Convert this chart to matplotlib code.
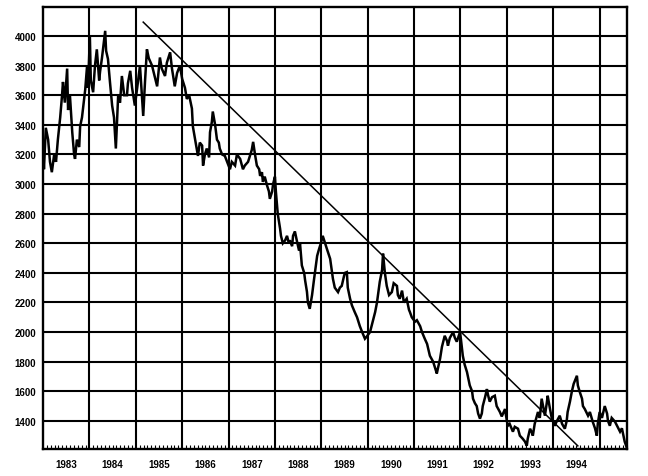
import matplotlib
matplotlib.use("Agg")
import matplotlib.pyplot as plt
import matplotlib.transforms as mtransforms
import numpy as np

years = [
1983.00,1983.02,1983.06,1983.11,1983.15,1983.19,1983.24,1983.28,1983.32,1983.37,
1983.41,1983.43,1983.47,1983.52,1983.54,1983.58,1983.63,1983.67,1983.69,1983.73,
1983.78,1983.80,1983.84,1983.91,1983.95,1983.97,1984.01,1984.03,1984.08,1984.12,
1984.16,1984.21,1984.23,1984.27,1984.34,1984.36,1984.40,1984.44,1984.49,1984.53,
1984.57,1984.62,1984.66,1984.70,1984.75,1984.81,1984.83,1984.88,1984.92,1984.98,
1985.03,1985.09,1985.13,1985.16,1985.20,1985.24,1985.28,1985.35,1985.39,1985.46,
1985.52,1985.56,1985.63,1985.67,1985.74,1985.78,1985.84,1985.89,1985.95,1986.00,
1986.06,1986.10,1986.15,1986.21,1986.23,1986.28,1986.34,1986.38,1986.43,1986.45,
1986.49,1986.53,1986.58,1986.60,1986.64,1986.66,1986.71,1986.75,1986.79,1986.81,
1986.86,1986.92,1986.97,1987.03,1987.07,1987.14,1987.18,1987.25,1987.31,1987.35,
1987.42,1987.46,1987.50,1987.53,1987.57,1987.61,1987.66,1987.68,1987.72,1987.74,
1987.78,1987.83,1987.87,1987.89,1987.94,1987.96,1988.00,1988.02,1988.06,1988.11,
1988.13,1988.17,1988.22,1988.26,1988.30,1988.32,1988.37,1988.39,1988.43,1988.47,
1988.52,1988.54,1988.58,1988.63,1988.65,1988.69,1988.71,1988.75,1988.80,1988.84,
1988.91,1988.95,1988.99,1989.03,1989.08,1989.12,1989.19,1989.25,1989.29,1989.36,
1989.40,1989.44,1989.49,1989.51,1989.55,1989.57,1989.62,1989.66,1989.72,1989.77,
1989.83,1989.88,1989.94,1989.98,1990.05,1990.09,1990.16,1990.20,1990.26,1990.31,
1990.33,1990.37,1990.41,1990.46,1990.52,1990.56,1990.63,1990.65,1990.69,1990.74,
1990.78,1990.84,1990.89,1990.91,1990.95,1991.02,1991.06,1991.13,1991.17,1991.23,
1991.28,1991.34,1991.41,1991.45,1991.49,1991.51,1991.56,1991.60,1991.66,1991.71,
1991.73,1991.77,1991.84,1991.88,1991.92,1991.97,1991.99,1992.01,1992.05,1992.09,
1992.14,1992.20,1992.25,1992.27,1992.31,1992.35,1992.38,1992.42,1992.46,1992.48,
1992.53,1992.57,1992.59,1992.63,1992.68,1992.74,1992.78,1992.85,1992.89,1992.96,
1993.00,1993.02,1993.06,1993.13,1993.17,1993.24,1993.28,1993.34,1993.39,1993.43,
1993.45,1993.50,1993.54,1993.56,1993.60,1993.67,1993.71,1993.75,1993.78,1993.82,
1993.86,1993.88,1993.93,1993.97,1994.03,1994.08,1994.14,1994.19,1994.25,1994.29,
1994.31,1994.36,1994.40,1994.44,1994.51,1994.53,1994.57,1994.62,1994.64,1994.68,
1994.75,1994.79,1994.85,1994.90,1994.94,1994.96,1995.00,1995.05,1995.11,1995.16,
1995.18,1995.22,1995.26,1995.33,1995.37,1995.44,1995.48,1995.54,1995.59,
]

values = [
3250,3100,3380,3300,3150,3080,3200,3150,3300,3450,
3600,3690,3550,3780,3500,3600,3350,3200,3170,3300,
3250,3390,3450,3640,3800,3650,4000,3700,3620,3800,
3910,3700,3760,3850,4035,3900,3845,3700,3530,3450,
3240,3600,3550,3730,3600,3600,3680,3765,3650,3530,
3650,3800,3600,3460,3700,3910,3850,3800,3750,3660,
3855,3780,3730,3820,3890,3780,3660,3750,3800,3710,
3650,3575,3600,3510,3390,3300,3190,3280,3260,3125,
3200,3240,3180,3350,3420,3490,3400,3300,3280,3240,
3200,3190,3150,3100,3150,3125,3200,3170,3100,3125,
3150,3190,3230,3285,3200,3125,3100,3055,3080,3015,
3050,2990,2950,2900,2950,3000,3050,2950,2800,2700,
2650,2600,2620,2650,2600,2620,2580,2650,2680,2620,
2550,2600,2450,2400,2350,2272,2200,2157,2250,2350,
2515,2560,2600,2650,2600,2562,2495,2360,2300,2270,
2300,2312,2380,2400,2405,2300,2225,2180,2135,2100,
2040,2000,1955,1970,2000,2050,2135,2200,2340,2420,
2530,2400,2312,2250,2270,2330,2312,2250,2225,2280,
2200,2225,2150,2135,2100,2070,2080,2040,2000,1955,
1920,1840,1800,1760,1720,1750,1820,1900,1975,1940,
1908,1960,2000,1960,1935,1980,2000,1950,1840,1780,
1730,1640,1600,1550,1520,1500,1450,1415,1450,1500,
1560,1615,1580,1530,1560,1570,1500,1460,1430,1480,
1400,1367,1380,1327,1360,1347,1300,1280,1260,1232,
1280,1347,1320,1300,1380,1460,1420,1550,1500,1435,
1520,1570,1480,1415,1367,1400,1435,1380,1347,1400,
1460,1530,1597,1650,1705,1640,1597,1550,1500,1480,
1435,1460,1395,1350,1300,1380,1460,1420,1500,1450,
1400,1367,1420,1395,1370,1327,1350,1260,1215,
]

trend_years = [1985.16, 1994.53]
trend_values = [4094, 1231]

ytick_values = [1400, 1600, 1800, 2000, 2200, 2400, 2600, 2800, 3000, 3200, 3400, 3600, 3800, 4000]
year_labels = [1983, 1984, 1985, 1986, 1987, 1988, 1989, 1990, 1991, 1992, 1993, 1994]

fig = plt.figure(figsize=(6.48, 4.77), dpi=100)
ax = fig.add_axes([0.0664, 0.0566, 0.9012, 0.9266])

ax.set_xlim(1983.0, 1995.59)
ax.set_ylim(1210, 4196)

# grid
for yv in ytick_values:
    ax.axhline(yv, color="black", lw=1.5, zorder=1)
for yr in range(1984, 1996):
    ax.axvline(yr, color="black", lw=1.5, zorder=1)

ax.plot(years, values, color="black", lw=1.8, zorder=3, solid_joinstyle="miter")
ax.plot(trend_years, trend_values, color="black", lw=1.1, zorder=3)

for s in ax.spines.values():
    s.set_linewidth(1.7)
    s.set_color("black")

ax.set_yticks(ytick_values)
ax.set_yticklabels([str(v) for v in ytick_values],
                   fontdict=dict(family="Liberation Sans", weight="bold", size=7))
ax.tick_params(axis="y", length=0, pad=5)

ax.set_xticks(np.arange(1983, 1996))
ax.set_xticklabels([])
ax.set_xticks(np.arange(1983, 1995.59, 1/12), minor=True)
ax.tick_params(axis="x", which="major", direction="in", length=5, width=1.2)
ax.tick_params(axis="x", which="minor", direction="in", length=3, width=0.8)

trans = mtransforms.blended_transform_factory(ax.transData, ax.transAxes)
for yr in year_labels:
    ax.text(yr + 0.5, -0.022, str(yr), transform=trans, ha="center", va="top",
            family="Liberation Sans", weight="bold", size=7)

fig.savefig("out.png", dpi=100)
